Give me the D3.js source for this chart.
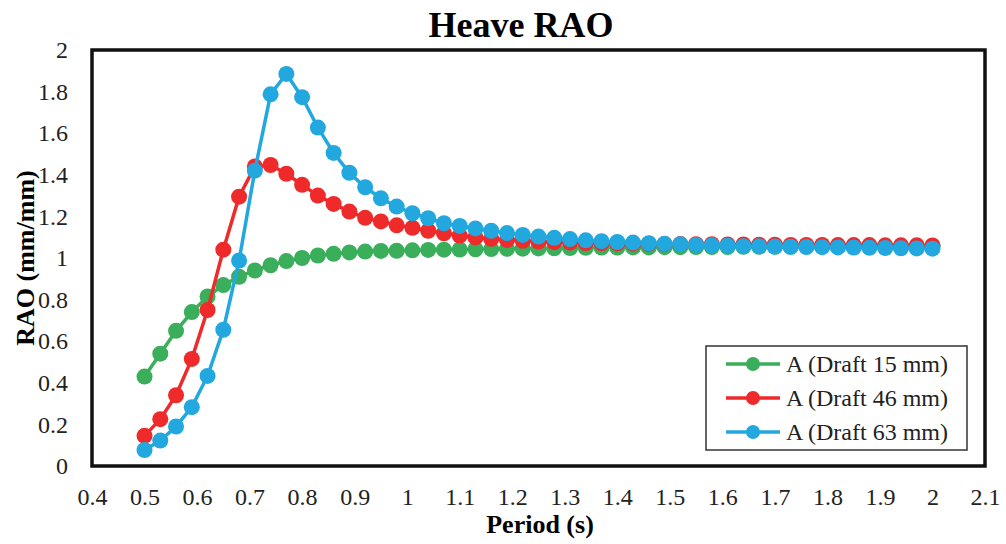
<!DOCTYPE html>
<html>
<head>
<meta charset="utf-8">
<script src="https://cdn.jsdelivr.net/npm/d3@7"></script>
<style>
  body { margin: 0; background: #fff; }
  svg, svg text { font-family: "Liberation Serif", "Times New Roman", serif; }
</style>
</head>
<body>
<script>
// chart size
const width = 1006;
const height = 544;
const margin = { top: 50, right: 21, bottom: 78, left: 92 };

// period values (s)
const periods = [0.50, 0.53, 0.56, 0.59, 0.62, 0.65, 0.68, 0.71, 0.74, 0.77,
  0.80, 0.83, 0.86, 0.89, 0.92, 0.95, 0.98, 1.01, 1.04, 1.07,
  1.10, 1.13, 1.16, 1.19, 1.22, 1.25, 1.28, 1.31, 1.34, 1.37,
  1.40, 1.43, 1.46, 1.49, 1.52, 1.55, 1.58, 1.61, 1.64, 1.67,
  1.70, 1.73, 1.76, 1.79, 1.82, 1.85, 1.88, 1.91, 1.94, 1.97, 2.00];

// RAO values
const draft15 = [0.43, 0.54, 0.65, 0.74, 0.815, 0.87, 0.91, 0.94, 0.965, 0.985,
  1.0, 1.012, 1.02, 1.027, 1.031, 1.034, 1.035, 1.037, 1.039, 1.040,
  1.041, 1.042, 1.043, 1.044, 1.045, 1.046, 1.047, 1.048, 1.049, 1.050,
  1.050, 1.051, 1.051, 1.052, 1.052, 1.053, 1.053, 1.053, 1.054, 1.054,
  1.054, 1.054, 1.055, 1.055, 1.055, 1.055, 1.055, 1.055, 1.055, 1.055, 1.055];

const draft46 = [0.145, 0.225, 0.34, 0.515, 0.75, 1.04, 1.295, 1.44, 1.447, 1.405,
  1.352, 1.30, 1.26, 1.223, 1.193, 1.176, 1.157, 1.145, 1.131, 1.119,
  1.108, 1.099, 1.092, 1.087, 1.083, 1.079, 1.076, 1.074, 1.072, 1.071,
  1.070, 1.069, 1.068, 1.067, 1.067, 1.066, 1.066, 1.065, 1.065, 1.064,
  1.064, 1.063, 1.063, 1.063, 1.062, 1.062, 1.062, 1.061, 1.061, 1.061, 1.060];

const draft63 = [0.077, 0.122, 0.19, 0.283, 0.433, 0.655, 0.988, 1.42, 1.787, 1.885,
  1.773, 1.627, 1.505, 1.41, 1.34, 1.287, 1.247, 1.215, 1.191, 1.167,
  1.154, 1.142, 1.131, 1.12, 1.111, 1.103, 1.097, 1.091, 1.085, 1.081,
  1.077, 1.074, 1.071, 1.068, 1.066, 1.063, 1.061, 1.059, 1.057, 1.056,
  1.055, 1.054, 1.053, 1.052, 1.051, 1.050, 1.049, 1.048, 1.047, 1.046, 1.045];

const xTicks = [0.4, 0.5, 0.6, 0.7, 0.8, 0.9, 1, 1.1, 1.2, 1.3, 1.4, 1.5, 1.6, 1.7, 1.8, 1.9, 2, 2.1];
const yTicks = [0, 0.2, 0.4, 0.6, 0.8, 1, 1.2, 1.4, 1.6, 1.8, 2];

const seriesNames = ["A (Draft 15 mm)", "A (Draft 46 mm)", "A (Draft 63 mm)"];
const seriesColors = ["#3aae5a", "#ee2a2a", "#22a8df"];
const seriesValues = [draft15, draft46, draft63];

const series = seriesNames.map((name, i) => ({
  name: name,
  color: seriesColors[i],
  points: periods.map((p, j) => ({ x: p, y: seriesValues[i][j] }))
}));

const svg = d3.select("body").append("svg")
  .attr("width", width)
  .attr("height", height);

const x = d3.scaleLinear()
  .domain([0.4, 2.1])
  .range([margin.left, width - margin.right]);

const y = d3.scaleLinear()
  .domain([0, 2])
  .range([height - margin.bottom, margin.top]);

// title
svg.append("text")
  .attr("x", 521)
  .attr("y", 37)
  .attr("text-anchor", "middle")
  .attr("font-size", 36)
  .attr("font-weight", "bold")
  .text("Heave RAO");

// axes (labels only, no tick marks)
const xAxis = svg.append("g")
  .attr("transform", `translate(0,${height - margin.bottom})`)
  .call(d3.axisBottom(x).tickValues(xTicks).tickSize(0).tickPadding(22).tickFormat(d3.format("")));

const yAxis = svg.append("g")
  .attr("transform", `translate(${margin.left},0)`)
  .call(d3.axisLeft(y).tickValues(yTicks).tickSize(0).tickPadding(24).tickFormat(d3.format("")));

[xAxis, yAxis].forEach(g => {
  g.attr("font-family", null).attr("font-size", null);
  g.select(".domain").remove();
  g.selectAll("text")
    .style("font-family", "'Liberation Serif', 'Times New Roman', serif")
    .style("font-size", "24px")
    .attr("fill", "#222");
});

// axis titles
svg.append("text")
  .attr("x", 540)
  .attr("y", 533)
  .attr("text-anchor", "middle")
  .attr("font-size", 26)
  .attr("font-weight", "bold")
  .text("Period (s)");

svg.append("text")
  .attr("transform", "translate(34,258) rotate(-90)")
  .attr("text-anchor", "middle")
  .attr("font-size", 26)
  .attr("font-weight", "bold")
  .text("RAO (mm/mm)");

// lines and markers
const line = d3.line()
  .x(d => x(d.x))
  .y(d => y(d.y));

series.forEach(s => {
  const g = svg.append("g");
  g.append("path")
    .datum(s.points)
    .attr("fill", "none")
    .attr("stroke", s.color)
    .attr("stroke-width", 3.5)
    .attr("d", line);
  g.selectAll("circle")
    .data(s.points)
    .enter().append("circle")
    .attr("cx", d => x(d.x))
    .attr("cy", d => y(d.y))
    .attr("r", 8)
    .attr("fill", s.color);
});

// plot box
svg.append("rect")
  .attr("x", margin.left)
  .attr("y", margin.top)
  .attr("width", width - margin.left - margin.right)
  .attr("height", height - margin.top - margin.bottom)
  .attr("fill", "none")
  .attr("stroke", "#111")
  .attr("stroke-width", 3.5);

// legend
const legend = svg.append("g").attr("transform", "translate(706,346)");
legend.append("rect")
  .attr("width", 261)
  .attr("height", 104)
  .attr("fill", "#fff")
  .attr("stroke", "#333")
  .attr("stroke-width", 1.5);

series.forEach((s, i) => {
  const row = legend.append("g").attr("transform", `translate(0,${18 + i * 34})`);
  row.append("line")
    .attr("x1", 20).attr("x2", 74)
    .attr("stroke", s.color)
    .attr("stroke-width", 3.5);
  row.append("circle")
    .attr("cx", 47)
    .attr("r", 7)
    .attr("fill", s.color);
  row.append("text")
    .attr("x", 80)
    .attr("dy", "0.35em")
    .attr("font-size", 24)
    .attr("fill", "#222")
    .text(s.name);
});
</script>
</body>
</html>
